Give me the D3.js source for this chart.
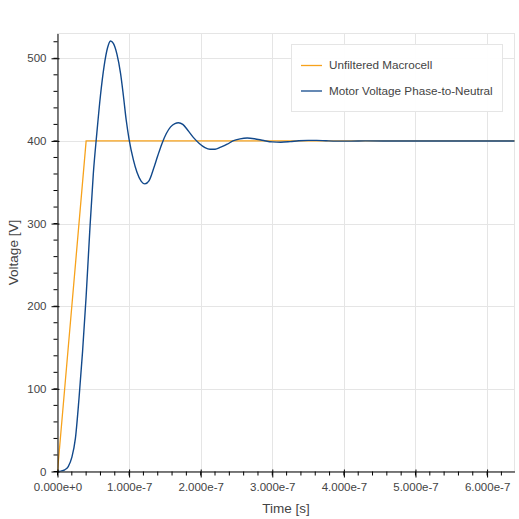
<!DOCTYPE html>
<html>
<head>
<meta charset="utf-8">
<script src="https://cdn.jsdelivr.net/npm/d3@7"></script>
<style>
  html, body { margin: 0; padding: 0; background: #fff; }
  svg { display: block; font-family: "Liberation Sans", Arial, Helvetica, sans-serif; }
</style>
</head>
<body>
<svg id="chart" width="519" height="519"></svg>
<script>
// ---- data (time in nanoseconds, voltage in volts) ----
const seriesNames = ["Unfiltered Macrocell", "Motor Voltage Phase-to-Neutral"];
const macroTimeNs = [0, 40, 640];
const macroVolt   = [0, 400, 400];
const motorTimeNs = [0, 5, 10, 15, 20, 25, 30, 35, 40, 45, 50, 55, 60, 65, 70, 74, 78, 83, 88, 92, 96, 100,
  106, 111, 117, 122, 128, 134, 140, 146, 152, 158, 164, 169, 175, 182, 190, 198, 206, 213, 220, 228, 237,
  245, 255, 265, 275, 288, 300, 312, 325, 337, 350, 362, 375, 390, 410, 430, 460, 520, 640];
const motorVolt   = [0, 0.5, 2, 6, 17, 40, 88, 145, 212, 290, 360, 410, 455, 490, 513, 521, 518, 505, 482, 455, 425, 402,
  377, 362, 351, 348, 352, 366, 382, 397, 409, 417, 421, 422, 420, 413, 404, 397, 392, 390, 390, 392.5, 396,
  400, 402.5, 403.5, 402.7, 400.5, 398.8, 398.4, 399.2, 400.3, 400.7, 400.7, 400.2, 399.8, 399.8, 400.1, 400, 400, 400];
const xTicks = [0, 1e-7, 2e-7, 3e-7, 4e-7, 5e-7, 6e-7];
const yTicks = [0, 100, 200, 300, 400, 500];
const xLabel = "Time [s]";
const yLabel = "Voltage [V]";

// ---- layout ----
const L = 57.5, R = 514.5, T = 33.5, B = 471.5;
const colors = ["#f7a21b", "#12498b"];
const svg = d3.select("#chart");

const x = d3.scaleLinear().domain([0, 6.383e-7]).range([L, R]);
const y = d3.scaleLinear().domain([0, 530]).range([B, T]);

// grid
const grid = svg.append("g");
grid.selectAll(".gx").data(xTicks.filter(d => d > 0)).join("line")
  .attr("x1", d => Math.round(x(d)) + 0.5).attr("x2", d => Math.round(x(d)) + 0.5)
  .attr("y1", T).attr("y2", B).attr("stroke", "#e5e5e5");
grid.selectAll(".gy").data(yTicks.filter(d => d > 0)).join("line")
  .attr("y1", d => Math.round(y(d)) + 0.5).attr("y2", d => Math.round(y(d)) + 0.5)
  .attr("x1", L).attr("x2", R).attr("stroke", "#e5e5e5");

// outline
svg.append("rect").attr("x", L).attr("y", T).attr("width", R - L).attr("height", B - T)
  .attr("fill", "none").attr("stroke", "#e5e5e5");

// clip
svg.append("clipPath").attr("id", "clip").append("rect")
  .attr("x", L).attr("y", T - 1).attr("width", R - L).attr("height", B - T + 1);

const line = d3.line().x(d => x(d[0] * 1e-9)).y(d => y(d[1]));
const macro = macroTimeNs.map((t, i) => [t, macroVolt[i]]);
const motor = motorTimeNs.map((t, i) => [t, motorVolt[i]]);

const plot = svg.append("g").attr("clip-path", "url(#clip)");
plot.append("path").datum(macro).attr("d", line.curve(d3.curveLinear))
  .attr("fill", "none").attr("stroke", colors[0]).attr("stroke-width", 1.3);
plot.append("path").datum(motor).attr("d", d3.line().x(d => x(d[0] * 1e-9)).y(d => y(d[1])).curve(d3.curveMonotoneX))
  .attr("fill", "none").attr("stroke", colors[1]).attr("stroke-width", 1.4);

// axes
const fmt = d => d.toExponential(3);
const xAxis = d3.axisBottom(x).tickValues(xTicks).tickFormat(fmt).tickSizeInner(6).tickSizeOuter(0).tickPadding(5);
const yAxis = d3.axisLeft(y).tickValues(yTicks).tickFormat(d3.format("d")).tickSizeInner(6).tickSizeOuter(0).tickPadding(5);

const gx = svg.append("g").attr("transform", `translate(0,${B})`).call(xAxis);
const gy = svg.append("g").attr("transform", `translate(${L},0)`).call(yAxis);
[gx, gy].forEach(g => {
  g.select(".domain").attr("stroke", "#000");
  g.selectAll(".tick line").attr("stroke", "#000");
  g.selectAll(".tick text").attr("fill", "#444").style("font-size", "11.5px")
    .style("font-family", "'Liberation Sans', Arial, sans-serif");
});
// major tick inner part (2px inside)
gx.selectAll(".tick").append("line").attr("y1", 0).attr("y2", -2).attr("stroke", "#000");
gy.selectAll(".tick").append("line").attr("x1", 0).attr("x2", 2).attr("stroke", "#000");

// minor ticks
const xMinor = d3.range(0, 6.4e-7, 0.2e-7).filter(v => x(v) <= R);
svg.append("g").selectAll("line").data(xMinor).join("line")
  .attr("x1", d => x(d)).attr("x2", d => x(d)).attr("y1", B).attr("y2", B + 4).attr("stroke", "#000");
const yMinor = d3.range(0, 531, 20);
svg.append("g").selectAll("line").data(yMinor).join("line")
  .attr("y1", d => y(d)).attr("y2", d => y(d)).attr("x1", L).attr("x2", L - 4).attr("stroke", "#000");

// axis labels
svg.append("text").attr("x", (L + R) / 2).attr("y", 513).attr("text-anchor", "middle")
  .attr("fill", "#444").style("font-size", "13.5px").text(xLabel);
svg.append("text").attr("transform", `translate(18,${(T + B) / 2}) rotate(-90)`).attr("text-anchor", "middle")
  .attr("fill", "#444").style("font-size", "13.5px").text(yLabel);

// legend
const lg = svg.append("g");
lg.append("rect").attr("x", 291.5).attr("y", 44.5).attr("width", 211).attr("height", 67)
  .attr("fill", "#fff").attr("fill-opacity", 0.95).attr("stroke", "#e5e5e5");
const items = lg.selectAll("g.item").data(seriesNames).join("g")
  .attr("transform", (d, i) => `translate(0,${65 + i * 25.5})`);
items.append("line").attr("x1", 301).attr("x2", 322).attr("y1", 0.5).attr("y2", 0.5)
  .attr("stroke", (d, i) => colors[i]).attr("stroke-width", 1.3);
items.append("text").attr("x", 329).attr("y", 0).attr("dy", "0.35em")
  .attr("fill", "#444").style("font-size", "11.7px").text(d => d);
</script>
</body>
</html>
